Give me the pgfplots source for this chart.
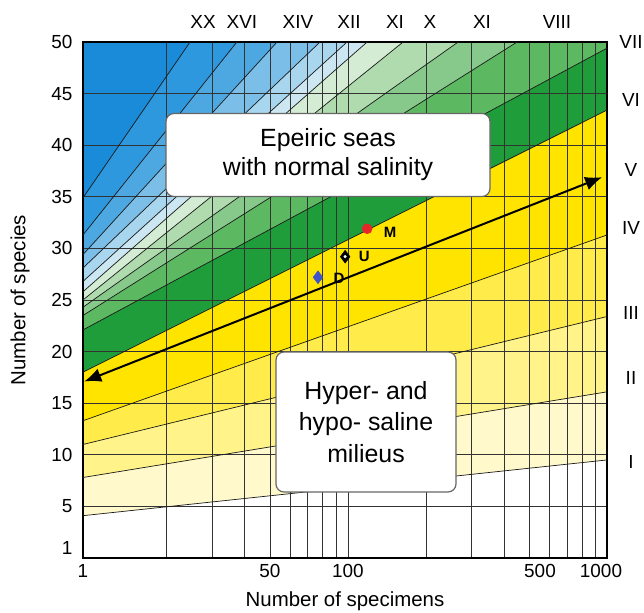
\documentclass[border=0pt]{standalone}
\usepackage{fontspec}
\setmainfont{Liberation Sans}
\usepackage{pgfplots}
\pgfplotsset{compat=1.18}
\usetikzlibrary{arrows.meta}
\definecolor{cI}{HTML}{FFF9CC}
\definecolor{cII}{HTML}{FFF38A}
\definecolor{cIII}{HTML}{FFEC4A}
\definecolor{cIV}{HTML}{FFE400}
\definecolor{cV}{HTML}{1E9D3A}
\definecolor{cVI}{HTML}{5DB862}
\definecolor{cL7}{HTML}{86C98A}
\definecolor{cL8}{HTML}{AFDBAE}
\definecolor{cL9}{HTML}{D4ECD4}
\definecolor{cL10}{HTML}{CCE7F2}
\definecolor{cL11}{HTML}{A9D6EF}
\definecolor{cL12}{HTML}{7BBFE9}
\definecolor{cL13}{HTML}{4DA8E2}
\definecolor{cL14}{HTML}{2D98DD}
\definecolor{cL15}{HTML}{1A8BD8}
\definecolor{mred}{HTML}{E8262A}
\definecolor{mblue}{HTML}{3D55C8}
\begin{document}
\begin{tikzpicture}
\begin{axis}[name=ax, set layers, scale only axis, width=524bp, height=516bp,
 xmode=log, xmin=9.5, xmax=1000, ymin=0, ymax=50,
 xtick={9.5,50,100,500,1000}, xticklabels={1,50,100,\hspace*{22bp}500,1000\hspace*{12bp}},
 minor xtick={20,30,40,60,70,80,90,200,300,400,600,700,800,900},
 ytick={5,10,...,50}, extra y ticks={1}, extra y tick style={grid=none},
 grid=both, major grid style={black!80, line width=0.6bp}, minor grid style={black!80, line width=0.6bp},
 major tick length=0, minor tick length=0,
 tick label style={font=\fontsize{19}{19}\selectfont},
 /pgf/number format/assume math mode=true,
 xticklabel style={yshift=-3bp},
 yticklabel style={xshift=-7bp},
 xlabel={Number of specimens}, ylabel={Number of species},
 label style={font=\fontsize{20.5}{20.5}\selectfont},
 xlabel style={at={(axis description cs:0.5,-0.083)}, anchor=center},
 ylabel style={at={(axis description cs:-0.12,0.5)}, anchor=center},
 axis line style={line width=1.2bp},
 clip=false,
]
% filled bands (area above each line)
\addplot[on layer=axis background, fill=cI, draw=none] coordinates {(9.5,4.1) (1000,9.5) (1000,50) (9.5,50)} -- cycle;
\addplot[on layer=axis background, fill=cII, draw=none] coordinates {(9.5,7.8) (1000,16.1) (1000,50) (9.5,50)} -- cycle;
\addplot[on layer=axis background, fill=cIII, draw=none] coordinates {(9.5,11.0) (1000,23.4) (1000,50) (9.5,50)} -- cycle;
\addplot[on layer=axis background, fill=cIV, draw=none] coordinates {(9.5,13.3) (1000,31.3) (1000,50) (9.5,50)} -- cycle;
\addplot[on layer=axis background, fill=cV, draw=none] coordinates {(9.5,18.0) (1000,43.4) (1000,50) (9.5,50)} -- cycle;
\addplot[on layer=axis background, fill=cVI, draw=none] coordinates {(9.5,22.1) (1000,49.4) (1000,50) (9.5,50)} -- cycle;
\addplot[on layer=axis background, fill=cL7, draw=none] coordinates {(9.5,23.5) (450,50) (9.5,50)} -- cycle;
\addplot[on layer=axis background, fill=cL8, draw=none] coordinates {(9.5,24.3) (266.5,50) (9.5,50)} -- cycle;
\addplot[on layer=axis background, fill=cL9, draw=none] coordinates {(9.5,25.0) (163.4,50) (9.5,50)} -- cycle;
\addplot[on layer=axis background, fill=cL10, draw=none] coordinates {(9.5,25.8) (118.7,50) (9.5,50)} -- cycle;
\addplot[on layer=axis background, fill=cL11, draw=none] coordinates {(9.5,26.8) (99.3,50) (9.5,50)} -- cycle;
\addplot[on layer=axis background, fill=cL12, draw=none] coordinates {(9.5,28.1) (78.1,50) (9.5,50)} -- cycle;
\addplot[on layer=axis background, fill=cL13, draw=none] coordinates {(9.5,29.4) (53.3,50) (9.5,50)} -- cycle;
\addplot[on layer=axis background, fill=cL14, draw=none] coordinates {(9.5,31.3) (37.3,50) (9.5,50)} -- cycle;
\addplot[on layer=axis background, fill=cL15, draw=none] coordinates {(9.5,34.9) (24.6,50) (9.5,50)} -- cycle;
% contour lines
\addplot[black!90, line width=0.7bp] coordinates {(9.5,4.1) (1000,9.5)};
\addplot[black!90, line width=0.7bp] coordinates {(9.5,7.8) (1000,16.1)};
\addplot[black!90, line width=0.7bp] coordinates {(9.5,11.0) (1000,23.4)};
\addplot[black!90, line width=0.7bp] coordinates {(9.5,13.3) (1000,31.3)};
\addplot[black!90, line width=0.7bp] coordinates {(9.5,18.0) (1000,43.4)};
\addplot[black!90, line width=0.7bp] coordinates {(9.5,22.1) (1000,49.4)};
\addplot[black!90, line width=0.7bp] coordinates {(9.5,23.5) (450,50)};
\addplot[black!90, line width=0.7bp] coordinates {(9.5,24.3) (266.5,50)};
\addplot[black!90, line width=0.7bp] coordinates {(9.5,25.0) (163.4,50)};
\addplot[black!90, line width=0.7bp] coordinates {(9.5,25.8) (118.7,50)};
\addplot[black!90, line width=0.7bp] coordinates {(9.5,26.8) (99.3,50)};
\addplot[black!90, line width=0.7bp] coordinates {(9.5,28.1) (78.1,50)};
\addplot[black!90, line width=0.7bp] coordinates {(9.5,29.4) (53.3,50)};
\addplot[black!90, line width=0.7bp] coordinates {(9.5,31.3) (37.3,50)};
\addplot[black!90, line width=0.7bp] coordinates {(9.5,34.9) (24.6,50)};
% arrow
\addplot[black, line width=2bp, arrows={Latex[length=17bp,width=14bp]-Latex[length=17bp,width=14bp]}] coordinates {(9.6,17.1) (958,36.9)};
% samples
\addplot[only marks, mark=*, mark size=5bp, color=mred] coordinates {(118.7,31.9)};
\addplot[only marks, mark=diamond*, mark size=6.5bp, color=black] coordinates {(97.6,29.2)};
\addplot[only marks, mark=*, mark size=1.3bp, color=white] coordinates {(97.6,29.2)};
\addplot[only marks, mark=diamond*, mark size=6.5bp, color=mblue] coordinates {(76.7,27.2)};
\node[font=\bfseries\fontsize{15}{15}\selectfont] at (axis cs:118.7,31.9) [xshift=23bp, yshift=-4bp] {M};
\node[font=\bfseries\fontsize{15}{15}\selectfont] at (axis cs:97.6,29.2) [xshift=19bp] {U};
\node[font=\bfseries\fontsize{15}{15}\selectfont] at (axis cs:76.7,27.2) [xshift=21bp, yshift=-1bp] {D};
\end{axis}
% text boxes
\node[draw=black!60, line width=1.2bp, rounded corners=8bp, fill=white, minimum width=324bp, minimum height=83bp, align=center, font=\fontsize{25}{29}\selectfont] at ([shift={(245bp,403bp)}]ax.south west) {Epeiric seas\\with normal salinity};
\node[draw=black!60, line width=1.2bp, rounded corners=8bp, fill=white, minimum width=180bp, minimum height=140bp, align=center, font=\fontsize{25}{32}\selectfont] at ([shift={(283bp,136bp)}]ax.south west) {Hyper- and\\hypo- saline\\milieus};
% roman numerals
\begin{scope}[every node/.style={font=\fontsize{19}{19}\selectfont}]
\node at ([shift={(120bp,536bp)}]ax.south west) {XX};
\node at ([shift={(159bp,536bp)}]ax.south west) {XVI};
\node at ([shift={(215bp,536bp)}]ax.south west) {XIV};
\node at ([shift={(266bp,536bp)}]ax.south west) {XII};
\node at ([shift={(312bp,536bp)}]ax.south west) {XI};
\node at ([shift={(347bp,536bp)}]ax.south west) {X};
\node at ([shift={(399bp,536bp)}]ax.south west) {XI};
\node at ([shift={(474bp,536bp)}]ax.south west) {VIII};
\node at ([shift={(548bp,516bp)}]ax.south west) {VII};
\node at ([shift={(548bp,458bp)}]ax.south west) {VI};
\node at ([shift={(548bp,388bp)}]ax.south west) {V};
\node at ([shift={(548bp,330bp)}]ax.south west) {IV};
\node at ([shift={(548bp,245bp)}]ax.south west) {III};
\node at ([shift={(548bp,180bp)}]ax.south west) {II};
\node at ([shift={(548bp,96bp)}]ax.south west) {I};
\end{scope}
\pgfresetboundingbox
\path[use as bounding box] ([shift={(-83bp,-55bp)}]ax.south west) rectangle ([shift={(37bp,42bp)}]ax.north east);
\end{tikzpicture}
\end{document}
